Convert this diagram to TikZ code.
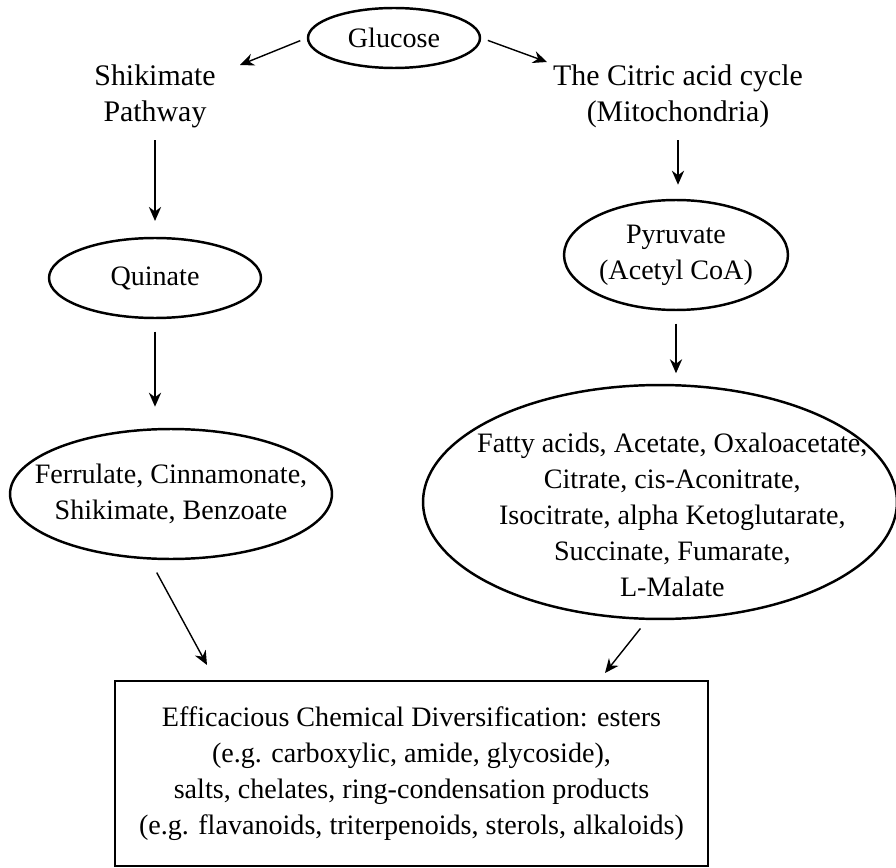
\documentclass[tikz,border=0pt]{standalone}
\usepackage{fontspec}
\setmainfont{Liberation Serif}
\usetikzlibrary{arrows.meta,shapes.geometric,positioning}

\newcommand{\ind}{\hspace*{14pt}}

\begin{document}
\begin{tikzpicture}[
  x=0.02cm, y=-0.02cm,
  font=\fontsize{16}{20.5}\selectfont,
  oval/.style  = {ellipse, draw=black, line width=1.4pt, align=center, inner sep=-1.5cm},
  plain/.style = {align=center, inner sep=0pt, font=\fontsize{17}{20.5}\selectfont},
  box/.style   = {draw=black, line width=1.3pt, align=center, inner sep=0pt},
  ar/.style    = {-{Stealth[length=8pt,width=7pt]}, line width=0.8pt},
]
\useasboundingbox (0,0) rectangle (896,868);

% ---- top -------------------------------------------------------------------
\node[oval, minimum width=3.44cm, minimum height=1.2cm] (glc) at (394,38) {Glucose};
\node[plain] (shik) at (155,96) {Shikimate\\Pathway};
\node[plain] (tca)  at (678,96) {The Citric acid cycle\\(Mitochondria)};

\coordinate (tipl) at (240,65);
\coordinate (tipr) at (547,62);
\draw[ar, shorten <=4pt] (glc.west) -- (tipl);
\draw[ar, shorten <=4pt] (glc.east) -- (tipr);

% ---- shikimate path --------------------------------------------------------
\node[oval, minimum width=4.24cm, minimum height=1.6cm] (quin) at (155,278) {Quinate};
\node[oval, minimum width=6.44cm, minimum height=2.6cm] (ferr) at (171,494)
  {Ferrulate, Cinnamonate,\\ Shikimate, Benzoate};

\draw[ar, shorten <=7pt, shorten >=9pt] (shik) -- (shik |- quin.north);
\draw[ar, shorten <=7pt, shorten >=12pt] (quin) -- (quin |- ferr.north);

% ---- citric acid path ------------------------------------------------------
\node[oval, minimum width=4.48cm, minimum height=2.2cm] (pyr) at (676,255)
  {Pyruvate\\(Acetyl CoA)};
\node[oval, minimum width=9.48cm, minimum height=4.68cm,
      text height=110pt, text depth=2pt] (acids) at (660,502)
  {\ind Fatty acids, Acetate, Oxaloacetate,\\\ind Citrate, cis-Aconitrate,\\
   \ind Isocitrate, alpha Ketoglutarate,\\\ind Succinate, Fumarate,\\\ind L-Malate};

\draw[ar, shorten <=7pt, shorten >=8pt] (tca) -- (tca |- pyr.north);
\draw[ar, shorten <=7pt, shorten >=6pt] (pyr) -- (pyr |- acids.north);

% ---- result ----------------------------------------------------------------
\node[box, minimum width=11.86cm, minimum height=3.7cm] (div) at (411.5,773.5)
  {Efficacious Chemical Diversification: esters\\
   (e.g. carboxylic, amide, glycoside),\\
   salts, chelates, ring-condensation products\\
   (e.g. flavanoids, triterpenoids, sterols, alkaloids)};

\coordinate (tipa) at (207,665);
\coordinate (tipb) at (605,673);
\draw[ar, shorten <=8pt] ([xshift=-0.42cm]ferr.south) -- (tipa);
\draw[ar, shorten <=6pt] ([xshift=-0.26cm]acids.south) -- (tipb);

\end{tikzpicture}
\end{document}
